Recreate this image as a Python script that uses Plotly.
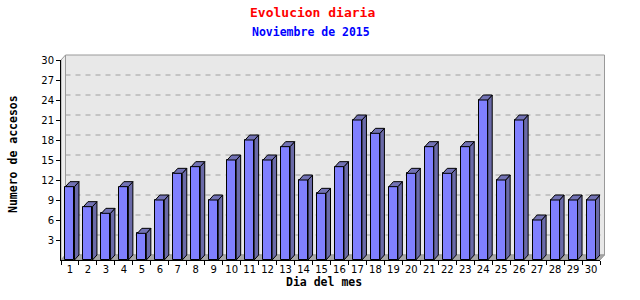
import plotly.graph_objects as go

days = list(range(1, 31))
visits = [11, 8, 7, 11, 4, 9, 13, 14, 9, 15, 18, 15, 17, 12, 10, 14, 21, 19, 11, 13,
          17, 13, 17, 24, 12, 21, 6, 9, 9, 9]
y_ticks = list(range(3, 31, 3))

title = "Evolucion diaria"
subtitle = "Noviembre de 2015"
x_title = "Dia del mes"
y_title = "Numero de accesos"

# plot geometry (pixels)
W, H = 640, 300
L, R, T, B = 61, 40, 60, 40
PW, PH = W - L - R, H - T - B
DX_PX, DY_PX = 4.5, 5.0
YMAX = 30
dx = DX_PX / (PW / 30.0)
dy = DY_PX / (PH / YMAX)
half = 0.25

def px(x):
    return (x - L) / PW

def py(y):
    return (H - B - y) / PH

fig = go.Figure()

# side faces and top faces of 3D bars
side_x, side_y, top_x, top_y = [], [], [], []
for d, v in zip(days, visits):
    xr = d + half
    side_x += [xr, xr + dx, xr + dx, xr, xr, None]
    side_y += [0, dy, v + dy, v, 0, None]
    xl = d - half
    top_x += [xl, xr, xr + dx, xl + dx, xl, None]
    top_y += [v, v, v + dy, v + dy, v, None]

fig.add_trace(go.Scatter(x=side_x, y=side_y, mode="lines", fill="toself",
                         fillcolor="#6a6aa8", line=dict(color="black", width=1),
                         hoverinfo="skip", showlegend=False))
fig.add_trace(go.Scatter(x=top_x, y=top_y, mode="lines", fill="toself",
                         fillcolor="#7272b4", line=dict(color="black", width=1),
                         hoverinfo="skip", showlegend=False))
fig.add_trace(go.Bar(x=days, y=visits, width=2 * half,
                     marker=dict(color="#8080ff", line=dict(color="black", width=1)),
                     showlegend=False))

shapes = []
# back plane
shapes.append(dict(type="rect", xref="paper", yref="paper", layer="below",
                   x0=px(L + DX_PX), x1=px(L + PW + DX_PX),
                   y0=py(H - B - DY_PX), y1=py(T - DY_PX),
                   fillcolor="#e8e8e8", line=dict(color="#999999", width=1)))
# left wall
shapes.append(dict(type="path", xref="paper", yref="paper", layer="below",
                   path="M {a},{b} L {c},{d} L {c},{e} L {a},{f} Z".format(
                       a=px(L), b=py(T), c=px(L + DX_PX), d=py(T - DY_PX),
                       e=py(H - B - DY_PX), f=py(H - B)),
                   fillcolor="#ececec", line=dict(color="#999999", width=1)))
# floor
shapes.append(dict(type="path", xref="paper", yref="paper", layer="below",
                   path="M {a},{b} L {c},{d} L {e},{d} L {f},{b} Z".format(
                       a=px(L), b=py(H - B), c=px(L + DX_PX), d=py(H - B - DY_PX),
                       e=px(L + PW + DX_PX), f=px(L + PW)),
                   fillcolor="#a8a8a8", line=dict(color="#999999", width=1)))
# dashed gridlines on back plane
for t in y_ticks[:-1]:
    shapes.append(dict(type="line", xref="paper", yref="y", layer="below",
                       x0=px(L + DX_PX), x1=px(L + PW + DX_PX),
                       y0=t + dy, y1=t + dy,
                       line=dict(color="#a0a0a0", width=1, dash="5px,5px")))

fig.update_layout(
    width=W, height=H,
    margin=dict(l=L, r=R, t=T, b=B),
    paper_bgcolor="white", plot_bgcolor="rgba(0,0,0,0)",
    shapes=shapes,
    bargap=0,
    xaxis=dict(range=[0.5, 30.5], tickvals=days, ticktext=[str(d) for d in days],
               ticks="", showline=True, linecolor="black", linewidth=1,
               showgrid=False, zeroline=False,
               minor=dict(tick0=0.5, dtick=1, ticks="outside", ticklen=4,
                          tickcolor="black", showgrid=False),
               tickfont=dict(family="DejaVu Sans", size=10, color="black")),
    yaxis=dict(range=[0, YMAX], tickvals=y_ticks, ticks="outside", ticklen=4,
               tickcolor="black", showline=True, linecolor="black", linewidth=1,
               showgrid=False, zeroline=False,
               tickfont=dict(family="DejaVu Sans", size=10, color="black")),
    annotations=[
        dict(text="<b>" + title + "</b>", xref="paper", yref="paper",
             x=px(312), y=py(13), showarrow=False, xanchor="center", yanchor="middle",
             font=dict(family="DejaVu Sans Mono", size=13, color="#ff0000")),
        dict(text="<b>" + subtitle + "</b>", xref="paper", yref="paper",
             x=px(311), y=py(32), showarrow=False, xanchor="center", yanchor="middle",
             font=dict(family="DejaVu Sans Mono", size=11.5, color="#0000ff")),
        dict(text="<b>" + x_title + "</b>", xref="paper", yref="paper",
             x=px(324), y=py(282), showarrow=False, xanchor="center", yanchor="middle",
             font=dict(family="DejaVu Sans Mono", size=11.5, color="black")),
        dict(text="<b>" + y_title + "</b>", xref="paper", yref="paper",
             x=px(13), y=py(154), showarrow=False, xanchor="center", yanchor="middle",
             textangle=-90,
             font=dict(family="DejaVu Sans Mono", size=11.5, color="black")),
    ],
)

fig.write_html("out.html")
